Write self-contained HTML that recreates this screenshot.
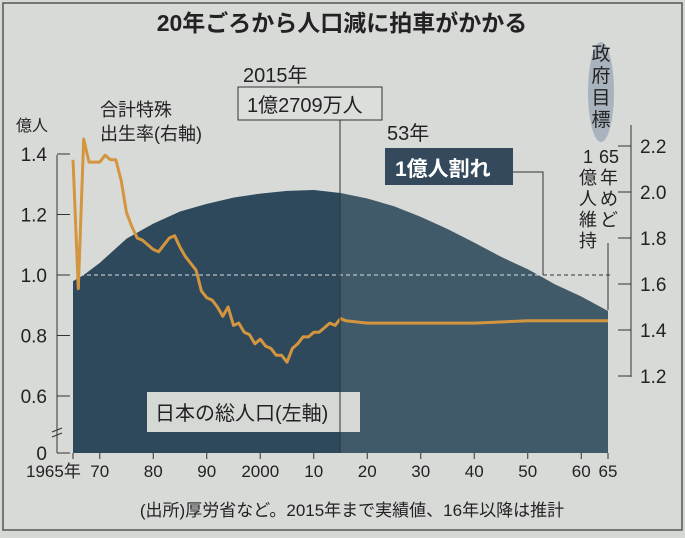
<!DOCTYPE html>
<html><head><meta charset="utf-8"><style>
body{margin:0;width:685px;height:533px;background:#d6d8d6;overflow:hidden;font-family:"Liberation Sans","Noto Sans CJK JP",sans-serif}
svg text{font-family:"Liberation Sans","Noto Sans CJK JP",sans-serif;fill:#222}
</style></head><body>
<svg id="c" width="685" height="533">
<rect x="3" y="3" width="679" height="527" fill="#d8dad8" stroke="#555" stroke-width="1.5"/>
<text x="342" y="31" font-size="23" font-weight="bold" text-anchor="middle">20年ごろから人口減に拍車がかかる</text>
<g id="g"></g>
</svg>
<script>
const popYears=[1965,1967,1970,1975,1980,1985,1990,1995,2000,2005,2010,2015,2020,2025,2030,2035,2040,2045,2050,2053,2055,2060,2065];
const popValues=[0.98,1.0,1.04,1.12,1.17,1.21,1.235,1.256,1.269,1.278,1.281,1.271,1.253,1.227,1.192,1.152,1.107,1.06,1.019,0.99,0.97,0.929,0.881];
const tfrYears=[1965,1966,1967,1968,1969,1970,1971,1972,1973,1974,1975,1976,1977,1978,1979,1980,1981,1982,1983,1984,1985,1986,1987,1988,1989,1990,1991,1992,1993,1994,1995,1996,1997,1998,1999,2000,2001,2002,2003,2004,2005,2006,2007,2008,2009,2010,2011,2012,2013,2014,2015,2016,2020,2030,2040,2050,2060,2065];
const tfrValues=[2.14,1.58,2.23,2.13,2.13,2.13,2.16,2.14,2.14,2.05,1.91,1.85,1.80,1.79,1.77,1.75,1.74,1.77,1.80,1.81,1.76,1.72,1.69,1.66,1.57,1.54,1.53,1.50,1.46,1.50,1.42,1.43,1.39,1.38,1.34,1.36,1.33,1.32,1.29,1.29,1.26,1.32,1.34,1.37,1.37,1.39,1.39,1.41,1.43,1.42,1.45,1.44,1.43,1.43,1.43,1.44,1.44,1.44];
const leftTicks=[0.6,0.8,1.0,1.2,1.4];
const leftLabels=["0.6","0.8","1.0","1.2","1.4"];
const rightTicks=[1.2,1.4,1.6,1.8,2.0,2.2];
const xTicks=[1965,1970,1980,1990,2000,2010,2020,2030,2040,2050,2060,2065];
const xLabels=["1965年","70","80","90","2000","10","20","30","40","50","60","65"];
const X=y=>73+(y-1965)*5.35;
const YL=v=>275-(v-1)*302.5;
const YR=v=>146+(2.2-v)*230;
const base=453;
const g=document.getElementById('g');
const NS='http://www.w3.org/2000/svg';
function mk(t,a,txt){const e=document.createElementNS(NS,t);for(const k in a)e.setAttribute(k,a[k]);if(txt!==undefined)e.textContent=txt;g.appendChild(e);return e;}
function area(from,to,fill,name){let pts=[];for(let i=0;i<popYears.length;i++){if(popYears[i]>=from&&popYears[i]<=to)pts.push([popYears[i],popValues[i]]);}
 let d='M'+X(from)+','+base;pts.forEach(p=>{d+=' L'+X(p[0]).toFixed(1)+','+YL(p[1]).toFixed(1);});d+=' L'+X(to)+','+base+'Z';
 const e=mk('path',{d:d,fill:fill});
 
 }
area(1965,2015,'#2e495c','population-actual-area');
area(2015,2065,'#405a69','population-projection-area');
const dl=mk('line',{x1:73,x2:612,y1:YL(1),y2:YL(1),stroke:'#ddd',"stroke-dasharray":"4,3","stroke-width":1});


mk('line',{x1:543,x2:612,y1:YL(1),y2:YL(1),stroke:'#333',"stroke-dasharray":"4,3","stroke-width":1});
mk('line',{x1:57,x2:57,y1:155,y2:base,stroke:'#333'});
leftTicks.forEach((v,i)=>{mk('line',{x1:57,x2:70,y1:YL(v),y2:YL(v),stroke:'#333'});
 const t=mk('text',{x:47,y:YL(v)+7,"font-size":19,"text-anchor":"end"},leftLabels[i]);
 
 });
mk('line',{x1:57,x2:70,y1:base,y2:base,stroke:'#333'});
mk('text',{x:47,y:base+7,"font-size":19,"text-anchor":"end"},"0");
mk('path',{d:'M52,432 l10,-4 M52,437 l10,-4',stroke:'#333',fill:'none'});
mk('text',{x:16,y:131,"font-size":16},"億人");
mk('line',{x1:631,x2:631,y1:125,y2:377,stroke:'#333'});
rightTicks.forEach(v=>{mk('line',{x1:618,x2:631,y1:YR(v),y2:YR(v),stroke:'#333'});
 const t=mk('text',{x:640,y:YR(v)+7,"font-size":19},v.toFixed(1));
 
 });
xTicks.forEach((y,i)=>{mk('line',{x1:X(y),x2:X(y),y1:base,y2:base+6,stroke:'#333'});
 const t=mk('text',{x:X(y),y:base+24,"font-size":17,"text-anchor":"middle"},xLabels[i]);
 if(i==0){t.setAttribute('text-anchor','start');t.setAttribute('x',26);}
 
 });
let d='';tfrYears.forEach((y,i)=>{d+=(i?' L':'M')+X(y).toFixed(1)+','+YR(tfrValues[i]).toFixed(1);});
const tl=mk('path',{d:d,fill:'none',stroke:'#d4953f',"stroke-width":3,"stroke-linejoin":"round"});


mk('text',{x:100,y:116,"font-size":18},"合計特殊");
mk('text',{x:100,y:140,"font-size":18},"出生率(右軸)");
mk('rect',{x:147,y:392,width:213,height:40,fill:'#d6d8d6'});
mk('text',{x:155,y:420,"font-size":20},"日本の総人口(左軸)");
mk('text',{x:243,y:82,"font-size":20},"2015年");
mk('rect',{x:238,y:87,width:144,height:33,fill:'#dcdedc',stroke:'#333'});
mk('text',{x:247,y:112,"font-size":20},"1億2709万人");
mk('line',{x1:340,x2:340,y1:120,y2:base,stroke:'#333'});
mk('text',{x:387,y:140,"font-size":20},"53年");
mk('rect',{x:385,y:148,width:128,height:37,fill:'#34495b'});
mk('text',{x:395,y:176,"font-size":21,"font-weight":"bold",style:"fill:#fff"},"1億人割れ");
mk('path',{d:'M513,172 H543 V275',stroke:'#333',fill:'none'});
mk('ellipse',{cx:601,cy:92,rx:13,ry:50,fill:'#a9b3bd'});
["政","府","目","標"].forEach((c,i)=>mk('text',{x:601,y:60+i*22,"font-size":19,"text-anchor":"middle"},c));
["65","年","め","ど"].forEach((c,i)=>mk('text',{x:609,y:163+i*21,"font-size":18,"text-anchor":"middle"},c));
["1","億","人","維","持"].forEach((c,i)=>mk('text',{x:588,y:163+i*21,"font-size":18,"text-anchor":"middle"},c));
mk('line',{x1:608,x2:608,y1:243,y2:310,stroke:'#333'});
mk('text',{x:352,y:516,"font-size":17,"text-anchor":"middle"},"(出所)厚労省など。2015年まで実績値、16年以降は推計");
</script>
</body></html>
